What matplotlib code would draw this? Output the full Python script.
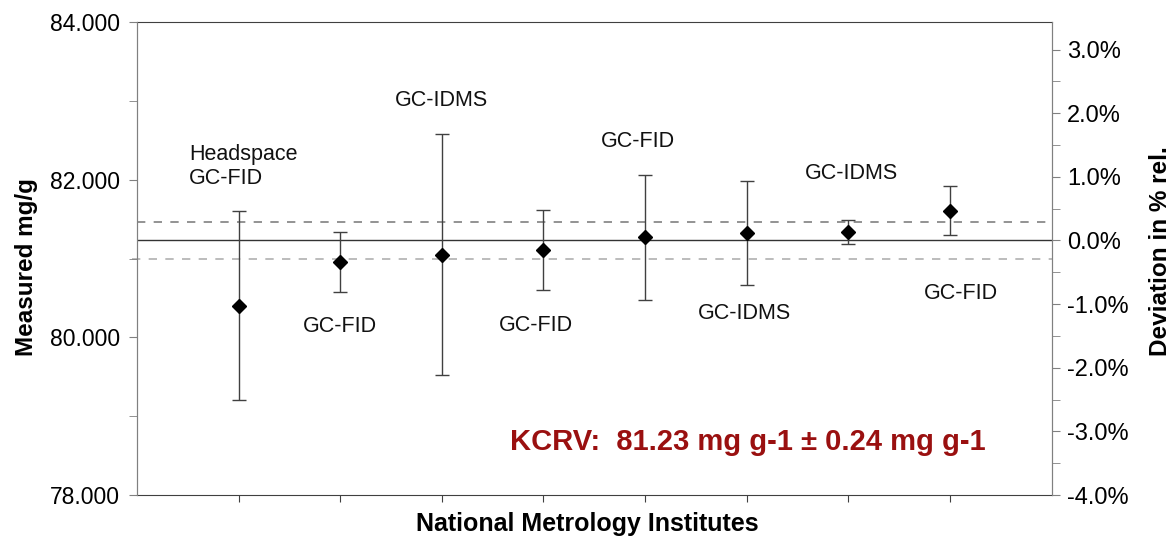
import matplotlib
matplotlib.use("Agg")
import matplotlib.pyplot as plt
from matplotlib.ticker import MultipleLocator, FuncFormatter

plt.rcParams['font.family'] = ['Liberation Sans', 'DejaVu Sans']

# Data
institutes = [1, 2, 3, 4, 5, 6, 7, 8]
values = [80.40, 80.96, 81.05, 81.11, 81.27, 81.32, 81.34, 81.61]
uncert = [1.20, 0.38, 1.53, 0.51, 0.79, 0.66, 0.155, 0.31]
kcrv = 81.23
kcrv_u = 0.24

method_labels = ["Headspace\nGC-FID", "GC-FID", "GC-IDMS", "GC-FID",
                 "GC-FID", "GC-IDMS", "GC-IDMS", "GC-FID"]
label_x = [0.51, 2.0, 3.0, 3.93, 4.93, 5.98, 7.03, 8.11]
label_y = [82.17, 80.14, 83.01, 80.15, 82.49, 80.30, 82.08, 80.56]
label_ha = ["left", "center", "center", "center", "center", "center", "center", "center"]

dev_limits = (-4.0, 3.43)

fig = plt.figure(figsize=(11.71, 5.41), dpi=100)
ax = fig.add_axes([0.117, 0.085, 0.781, 0.874])

ax.set_xlim(0, 9)
ax.set_ylim(78, 84)

# KCRV lines
ax.axhline(kcrv, color="#333333", lw=1.0, zorder=1)
ax.axhline(kcrv + kcrv_u, color="#808080", lw=1.2, ls=(0, (5, 5)), zorder=1)
ax.plot([-0.05, 9], [kcrv - kcrv_u] * 2, color="#b0b0b0", lw=1.2, ls=(0, (5, 5)),
        zorder=1, clip_on=False)

ax.errorbar(institutes, values, yerr=uncert, fmt="D", color="black",
            markersize=7, ecolor="#404040", elinewidth=1.0, capsize=5,
            capthick=1.0, zorder=3)

for lx, ly, t, ha in zip(label_x, label_y, method_labels, label_ha):
    ax.text(lx, ly, t, ha=ha, va="center", fontsize=15.5, color="#111111",
            linespacing=1.15)

ax.text(6.01, 78.67, "KCRV:  81.23 mg g-1 \u00b1 0.24 mg g-1", ha="center",
        va="center", fontsize=21, fontweight="bold", color="#9a1010")

# Axes styling
ax.set_xticks(institutes)
ax.set_xticklabels([])
ax.tick_params(axis="x", direction="out", length=5, color="#404040")
ax.yaxis.set_major_locator(MultipleLocator(2))
ax.yaxis.set_minor_locator(MultipleLocator(1))
ax.yaxis.set_major_formatter(FuncFormatter(lambda v, p: f"{v:.3f}"))
ax.tick_params(axis="y", which="both", direction="out", length=6,
               color="#808080", labelsize=16.5, pad=6)
for s in ["left", "right"]:
    ax.spines[s].set_color("#808080")
for s in ["top", "bottom"]:
    ax.spines[s].set_color("#404040")

ax.set_ylabel("Measured mg/g", fontsize=17.5, fontweight="bold")
ax.yaxis.set_label_coords(-0.108, 0.482)
ax.set_xlabel("National Metrology Institutes", fontsize=18, fontweight="bold")
ax.xaxis.set_label_coords(0.4925, -0.036)

ax2 = ax.twinx()
ax2.set_ylim(*dev_limits)
ax2.yaxis.set_major_locator(MultipleLocator(1))
ax2.yaxis.set_minor_locator(MultipleLocator(0.5))
ax2.yaxis.set_major_formatter(FuncFormatter(lambda v, p: f"{v:.1f}%"))
ax2.tick_params(axis="y", which="both", direction="out", length=6,
                color="#808080", labelsize=17, pad=5)
for s in ["left", "right"]:
    ax2.spines[s].set_color("#808080")
for s in ["top", "bottom"]:
    ax2.spines[s].set_visible(False)
ax2.set_ylabel("Deviation in % rel.", fontsize=17.5, fontweight="bold")
ax2.yaxis.set_label_coords(1.106, 0.515)

fig.savefig("out.png", dpi=100)
